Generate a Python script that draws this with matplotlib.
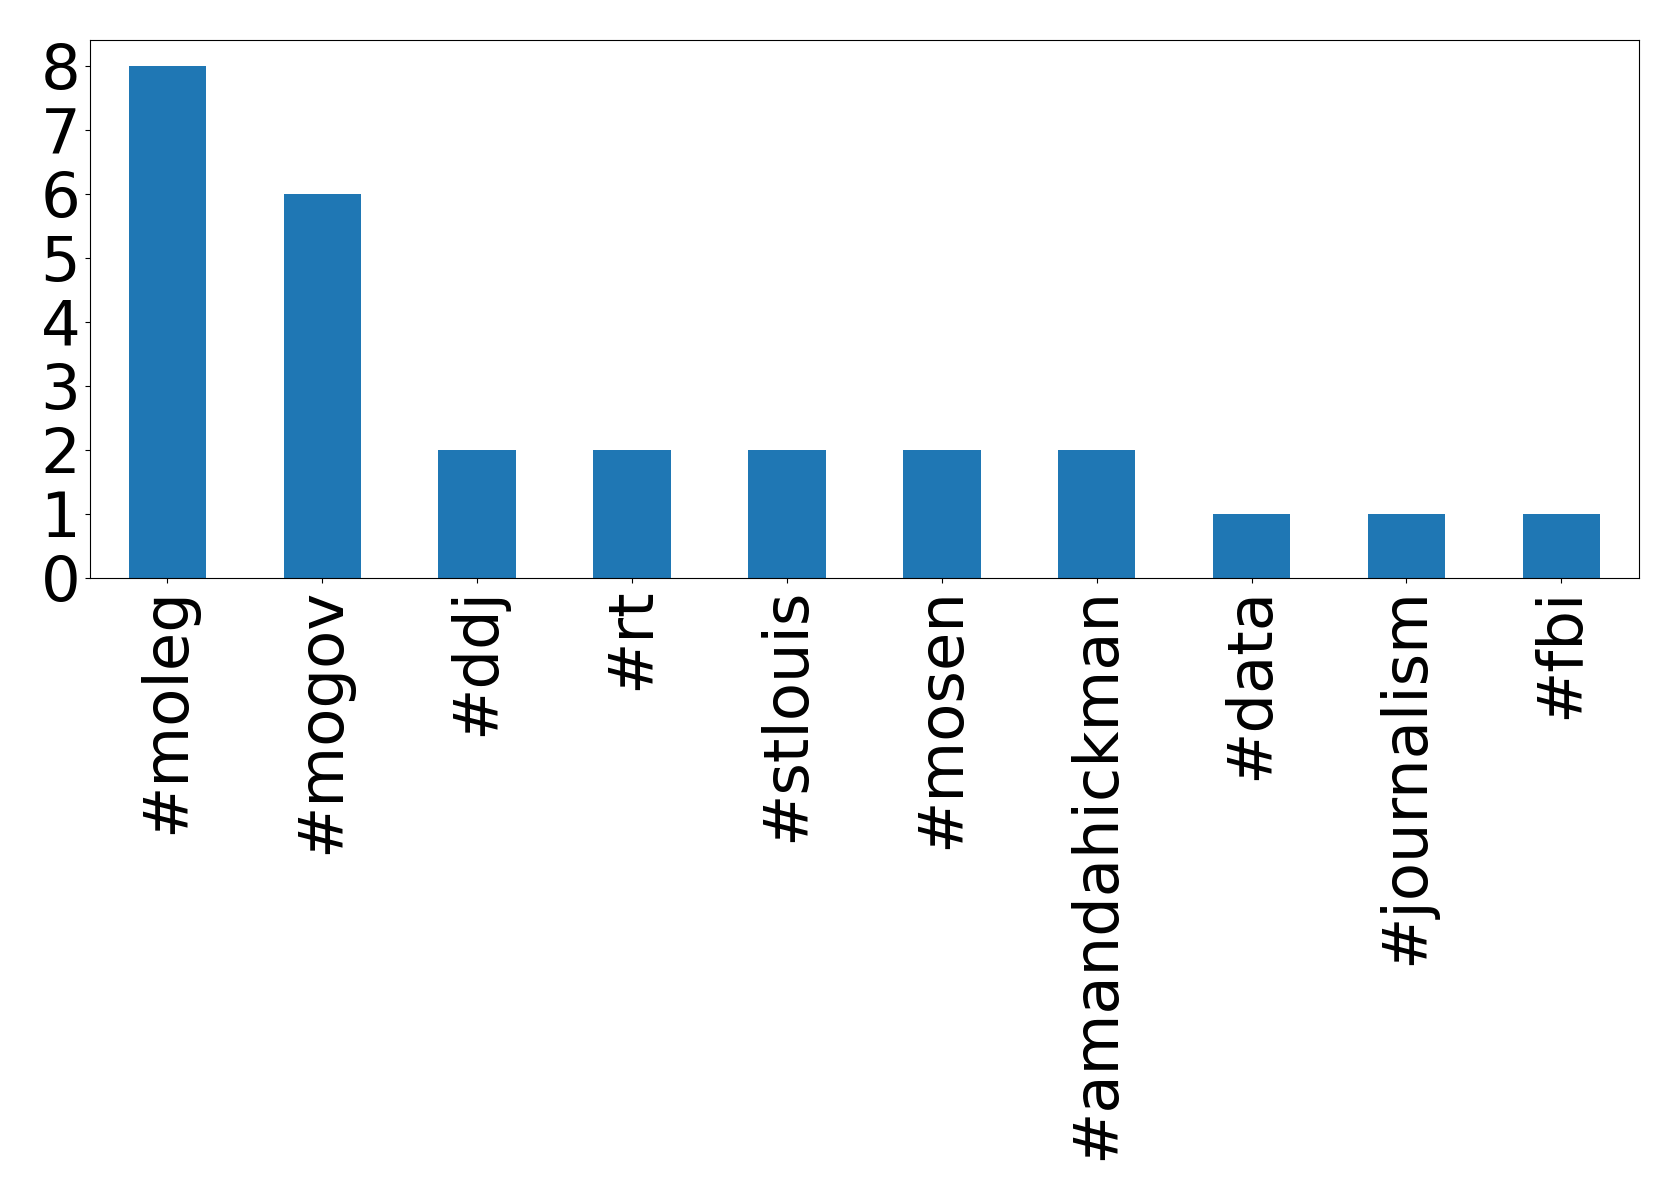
import matplotlib
matplotlib.use("Agg")
import matplotlib.pyplot as plt
import numpy as np

# hashtag counts
hashtags = ["#moleg", "#mogov", "#ddj", "#rt", "#stlouis", "#mosen",
            "#amandahickman", "#data", "#journalism", "#fbi"]
counts = [8, 6, 2, 2, 2, 2, 2, 1, 1, 1]


def main():
    fig = plt.figure(figsize=(16.79, 12.01), dpi=100)
    ax = fig.add_axes([0.0536, 0.519, 0.9224, 0.4477])

    x = np.arange(len(hashtags))
    ax.bar(x, counts, width=0.5, color="#1f77b4")
    ax.set_xlim(-0.5, len(hashtags) - 0.5)
    ax.set_ylim(0, 8.4)
    ax.set_xticks(x)
    ax.set_xticklabels(hashtags, rotation=90)
    ax.set_yticks(range(0, 9))
    ax.tick_params(axis="both", labelsize=45)

    fig.savefig("out.png", dpi=100)


if __name__ == "__main__":
    main()
